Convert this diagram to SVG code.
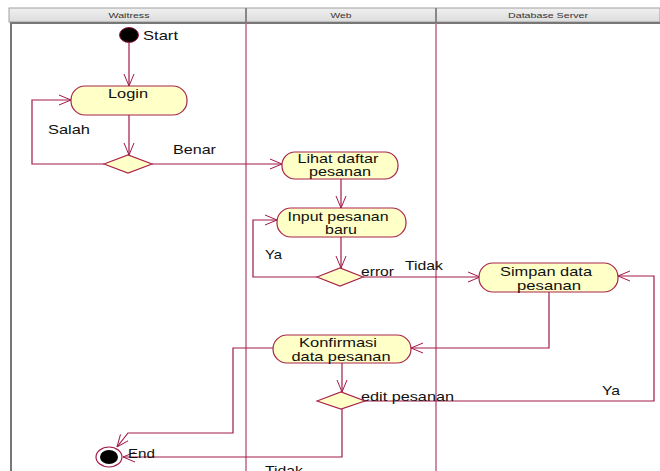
<svg xmlns="http://www.w3.org/2000/svg" width="660" height="471" viewBox="0 0 660 471">
<defs>
<style>
.t{font-family:"Liberation Sans",Arial,sans-serif;font-size:13px;fill:#111}
.h{font-family:"Liberation Sans",Arial,sans-serif;font-size:8px;fill:#333}
.n{fill:#ffffc8;stroke:#a8244c;stroke-width:1.2}
.c{fill:none;stroke:#a01a48;stroke-width:1.2}
.lane{stroke:#c0668a;stroke-width:1.5}
</style>
<marker id="a" viewBox="0 0 12 12" refX="12" refY="6" markerWidth="12" markerHeight="12" markerUnits="userSpaceOnUse" orient="auto">
<path d="M0,1 L12,6 L0,11" fill="none" stroke="#a01a48" stroke-width="1"/>
</marker>
<linearGradient id="hg" x1="0" y1="0" x2="0" y2="1">
<stop offset="0" stop-color="#f0f0f0"/><stop offset="1" stop-color="#dcdcdc"/>
</linearGradient>
</defs>
<rect width="660" height="471" fill="#fff"/>
<g id="lanes">
<rect x="9" y="8" width="651" height="14" fill="url(#hg)" stroke="#a0a0a0" stroke-width="1"/>
<line x1="246" y1="8" x2="246" y2="22" stroke="#888" stroke-width="2"/>
<line x1="436" y1="8" x2="436" y2="22" stroke="#888" stroke-width="2"/>
<text class="h" x="129" y="18" text-anchor="middle" textLength="41" lengthAdjust="spacingAndGlyphs">Waitress</text>
<text class="h" x="341" y="18" text-anchor="middle" textLength="21" lengthAdjust="spacingAndGlyphs">Web</text>
<text class="h" x="548" y="18" text-anchor="middle" textLength="80" lengthAdjust="spacingAndGlyphs">Database Server</text>
<line x1="10" y1="23" x2="660" y2="23" stroke="#777" stroke-width="2"/>
<line x1="11" y1="22" x2="11" y2="471" stroke="#777" stroke-width="2"/>
<line class="lane" x1="246" y1="23" x2="246" y2="471"/>
<line class="lane" x1="436" y1="23" x2="436" y2="471"/>
</g>
<g id="connectors">
<line class="c" x1="129" y1="43" x2="129" y2="86" marker-end="url(#a)"/>
<line class="c" x1="129" y1="115" x2="129" y2="155" marker-end="url(#a)"/>
<polyline class="c" points="104,164 32,164 32,100 71,100" marker-end="url(#a)"/>
<line class="c" x1="152" y1="164" x2="282" y2="164" marker-end="url(#a)"/>
<line class="c" x1="341" y1="179" x2="341" y2="208" marker-end="url(#a)"/>
<line class="c" x1="341" y1="237" x2="341" y2="268" marker-end="url(#a)"/>
<polyline class="c" points="317,277 253,277 253,220 277,220" marker-end="url(#a)"/>
<line class="c" x1="363" y1="277" x2="480" y2="277" marker-end="url(#a)"/>
<polyline class="c" points="549,292 549,348 411,348" marker-end="url(#a)"/>
<polyline class="c" points="273,348 233,348 233,433 128,433 117,447" marker-end="url(#a)"/>
<line class="c" x1="342" y1="363" x2="342" y2="392" marker-end="url(#a)"/>
<polyline class="c" points="363,401 654,401 654,276 618,276" marker-end="url(#a)"/>
<polyline class="c" points="342,409 342,457 123,457" marker-end="url(#a)"/>
<text class="t" x="48" y="134" textLength="42" lengthAdjust="spacingAndGlyphs">Salah</text>
<text class="t" x="173" y="154" textLength="43" lengthAdjust="spacingAndGlyphs">Benar</text>
<text class="t" x="265" y="259" textLength="17" lengthAdjust="spacingAndGlyphs">Ya</text>
<text class="t" x="361" y="276" textLength="33" lengthAdjust="spacingAndGlyphs">error</text>
<text class="t" x="405" y="270" textLength="38" lengthAdjust="spacingAndGlyphs">Tidak</text>
<text class="t" x="361" y="401" textLength="93" lengthAdjust="spacingAndGlyphs">edit pesanan</text>
<text class="t" x="602" y="395" textLength="18" lengthAdjust="spacingAndGlyphs">Ya</text>
<text class="t" x="265" y="475" textLength="38" lengthAdjust="spacingAndGlyphs">Tidak</text>
</g>
<g id="start">
<ellipse cx="129" cy="35" rx="9.5" ry="7.5" fill="#000" stroke="#a01a48" stroke-width="1"/>
<text class="t" x="143" y="40" textLength="35" lengthAdjust="spacingAndGlyphs">Start</text>
</g>
<g id="login">
<rect class="n" x="71" y="86" width="116" height="29" rx="14" ry="14"/>
<text class="t" x="128" y="98" text-anchor="middle" textLength="40" lengthAdjust="spacingAndGlyphs">Login</text>
</g>
<g id="decision1">
<polygon class="n" points="104,164 128,155 152,164 128,173"/>
</g>
<g id="lihat">
<rect class="n" x="282" y="152" width="116" height="27" rx="13" ry="13"/>
<text class="t" x="338" y="163" text-anchor="middle" textLength="81" lengthAdjust="spacingAndGlyphs">Lihat daftar</text>
<text class="t" x="340" y="176" text-anchor="middle" textLength="62" lengthAdjust="spacingAndGlyphs">pesanan</text>
</g>
<g id="input">
<rect class="n" x="277" y="208" width="129" height="29" rx="14" ry="14"/>
<text class="t" x="338" y="221" text-anchor="middle" textLength="101" lengthAdjust="spacingAndGlyphs">Input pesanan</text>
<text class="t" x="341" y="234" text-anchor="middle" textLength="32" lengthAdjust="spacingAndGlyphs">baru</text>
</g>
<g id="decision2">
<polygon class="n" points="317,277 340,268 363,277 340,286"/>
</g>
<g id="simpan">
<rect class="n" x="479" y="263" width="139" height="29" rx="14" ry="14"/>
<text class="t" x="546" y="276" text-anchor="middle" textLength="92" lengthAdjust="spacingAndGlyphs">Simpan data</text>
<text class="t" x="549" y="290" text-anchor="middle" textLength="64" lengthAdjust="spacingAndGlyphs">pesanan</text>
</g>
<g id="konfirmasi">
<rect class="n" x="273" y="335" width="138" height="28" rx="14" ry="14"/>
<text class="t" x="338" y="347" text-anchor="middle" textLength="78" lengthAdjust="spacingAndGlyphs">Konfirmasi</text>
<text class="t" x="341" y="361" text-anchor="middle" textLength="99" lengthAdjust="spacingAndGlyphs">data pesanan</text>
</g>
<g id="decision3">
<polygon class="n" points="317,401 341,392 365,401 341,409"/>
</g>
<g id="end">
<ellipse cx="109" cy="457" rx="13" ry="10" fill="#fff" stroke="#a01a48" stroke-width="1.2"/>
<ellipse cx="109" cy="457" rx="9" ry="7" fill="#000"/>
<text class="t" x="128" y="458" textLength="27" lengthAdjust="spacingAndGlyphs">End</text>
</g>
</svg>
